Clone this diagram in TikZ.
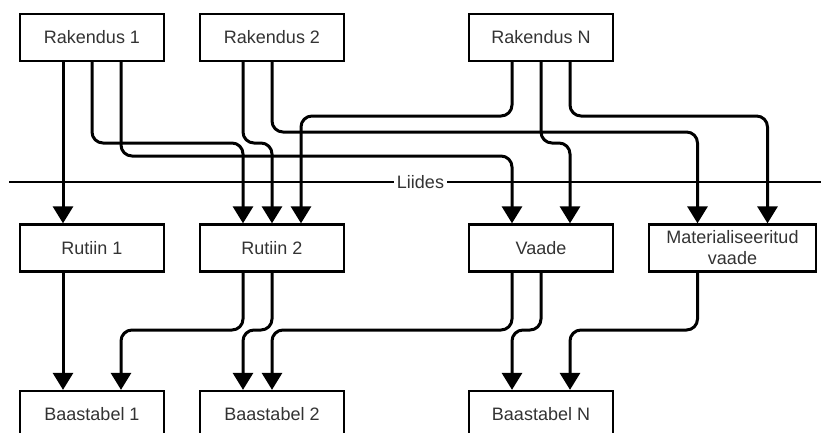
\documentclass[tikz,border=0pt]{standalone}
\usepackage{fontspec}
\setmainfont{Liberation Sans}
\usetikzlibrary{arrows.meta,calc}
\definecolor{txt}{RGB}{51,51,51}
\begin{document}
\begin{tikzpicture}[x=1pt,y=-1pt,
  box/.style={draw=black,line width=2.3pt,fill=white,minimum width=144pt,minimum height=47pt,
    inner sep=0pt,font=\fontsize{18}{21}\selectfont,text=txt,align=center},
  conn/.style={line width=3pt,rounded corners=11pt,-{Triangle[width=20pt,length=17pt]}},
  sepline/.style={line width=2.6pt}]
\useasboundingbox (0,0) rectangle (821,432);
\clip (0,0) rectangle (821,432);
% levels
\coordinate (L116) at (0,116);
\coordinate (L132) at (0,132);
\coordinate (L143) at (0,143);
\coordinate (L156) at (0,156);
\coordinate (L330) at (0,330);
% boxes
\node[box] (rk1) at (92,37.5) {Rakendus 1};
\node[box] (rk2) at (272,37.5) {Rakendus 2};
\node[box] (rkN) at (541,37.5) {Rakendus N};
\node[box] (ru1) at (92,248) {Rutiin 1};
\node[box] (ru2) at (272,248) {Rutiin 2};
\node[box] (va) at (541,248) {Vaade};
\node[box,minimum width=167pt] (mv) at (732.5,248) {Materialiseeritud\\vaade};
\node[box] (bt1) at (92,414.5) {Baastabel 1};
\node[box] (bt2) at (272,414.5) {Baastabel 2};
\node[box] (btN) at (541,414.5) {Baastabel N};
% Liides
\coordinate (lL) at (9,182);
\coordinate (lR) at (821,182);
\node[font=\fontsize{18}{21}\selectfont,text=txt,inner sep=3pt] (li) at (420.5,182) {Liides};
\draw[sepline] (lL) -- (li.west);
\draw[sepline] (li.east) -- (lR);
% ports
\coordinate (rk1a) at ([xshift=-29pt]rk1.south);
\coordinate (rk1b) at (rk1.south);
\coordinate (rk1c) at ([xshift=29pt]rk1.south);
\coordinate (rk2a) at ([xshift=-29pt]rk2.south);
\coordinate (rk2b) at (rk2.south);
\coordinate (rkNa) at ([xshift=-29pt]rkN.south);
\coordinate (rkNb) at (rkN.south);
\coordinate (rkNc) at ([xshift=29pt]rkN.south);
\coordinate (ru1n) at ([xshift=-29pt]ru1.north);
\coordinate (ru1s) at ([xshift=-29pt]ru1.south);
\coordinate (ru2na) at ([xshift=-29pt]ru2.north);
\coordinate (ru2nb) at (ru2.north);
\coordinate (ru2nc) at ([xshift=29pt]ru2.north);
\coordinate (ru2sa) at ([xshift=-29pt]ru2.south);
\coordinate (ru2sb) at (ru2.south);
\coordinate (vana) at ([xshift=-29pt]va.north);
\coordinate (vanc) at ([xshift=29pt]va.north);
\coordinate (vasa) at ([xshift=-29pt]va.south);
\coordinate (vasb) at (va.south);
\coordinate (mvna) at ([xshift=-35pt]mv.north);
\coordinate (mvnc) at ([xshift=35pt]mv.north);
\coordinate (mvs) at ([xshift=-35pt]mv.south);
\coordinate (bt1a) at ([xshift=-29pt]bt1.north);
\coordinate (bt1c) at ([xshift=29pt]bt1.north);
\coordinate (bt2a) at ([xshift=-29pt]bt2.north);
\coordinate (bt2b) at (bt2.north);
\coordinate (btNa) at ([xshift=-29pt]btN.north);
\coordinate (btNc) at ([xshift=29pt]btN.north);
% upper connectors
\draw[conn] (rk1a) -- (ru1n);
\draw[conn] (rk1b) -- (rk1b |- L143) -| (ru2na);
\draw[conn] (rk1c) -- (rk1c |- L156) -| (vana);
\draw[conn] (rk2a) -- (rk2a |- L143) -| (ru2nb);
\draw[conn] (rk2b) -- (rk2b |- L132) -| (mvna);
\draw[conn] (rkNa) -- (rkNa |- L116) -| (ru2nc);
\draw[conn] (rkNb) -- (rkNb |- L143) -| (vanc);
\draw[conn] (rkNc) -- (rkNc |- L116) -| (mvnc);
% lower connectors
\draw[conn] (ru1s) -- (bt1a);
\draw[conn] (ru2sa) -- (ru2sa |- L330) -| (bt1c);
\draw[conn] (ru2sb) -- (ru2sb |- L330) -| (bt2a);
\draw[conn] (vasa) -- (vasa |- L330) -| (bt2b);
\draw[conn] (vasb) -- (vasb |- L330) -| (btNa);
\draw[conn] (mvs) -- (mvs |- L330) -| (btNc);
\end{tikzpicture}
\end{document}
